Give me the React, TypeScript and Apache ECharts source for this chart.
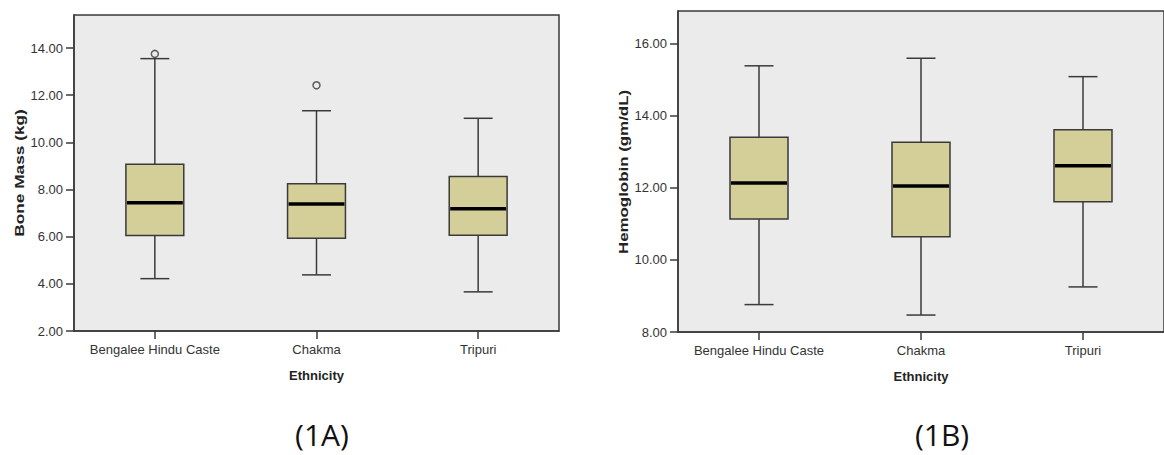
import React, { useEffect, useRef } from "react";
import * as echarts from "echarts";

const categories = ["Bengalee Hindu Caste", "Chakma", "Tripuri"];

// [min, Q1, median, Q3, max]
const boneMass = [
  [4.22, 6.05, 7.44, 9.07, 13.55],
  [4.38, 5.93, 7.39, 8.24, 11.34],
  [3.66, 6.06, 7.18, 8.55, 11.02],
];
const boneMassOutliers = [
  [0, 13.75],
  [1, 12.42],
];
const hemoglobin = [
  [8.76, 11.13, 12.13, 13.4, 15.38],
  [8.47, 10.64, 12.05, 13.26, 15.59],
  [9.25, 11.61, 12.61, 13.61, 15.08],
];

const boneMassTicks = [2, 4, 6, 8, 10, 12, 14];
const hemoglobinTicks = [8, 10, 12, 14, 16];

const panelLabels = ["(1A)", "(1B)"];
const yNames = ["Bone Mass (kg)", "Hemoglobin (gm/dL)"];
const xName = "Ethnicity";

const LINE = "#3a3a3a";
const FONT = '"Liberation Sans", Arial, sans-serif';

const renderBox = (params: any, api: any) => {
  const i = api.value(0);
  const pMin = api.coord([i, api.value(1)]);
  const pQ1 = api.coord([i, api.value(2)]);
  const pMed = api.coord([i, api.value(3)]);
  const pQ3 = api.coord([i, api.value(4)]);
  const pMax = api.coord([i, api.value(5)]);
  const band = api.size([1, 0])[0];
  const bw = band * 0.358;
  const cw = bw / 2;
  const cx = pMed[0];
  const ls = { stroke: LINE, lineWidth: 1.5, fill: null };
  return {
    type: "group",
    children: [
      { type: "line", shape: { x1: cx, y1: pMin[1], x2: cx, y2: pQ1[1] }, style: ls },
      { type: "line", shape: { x1: cx, y1: pQ3[1], x2: cx, y2: pMax[1] }, style: ls },
      { type: "line", shape: { x1: cx - cw / 2, y1: pMin[1], x2: cx + cw / 2, y2: pMin[1] }, style: ls },
      { type: "line", shape: { x1: cx - cw / 2, y1: pMax[1], x2: cx + cw / 2, y2: pMax[1] }, style: ls },
      {
        type: "rect",
        shape: { x: cx - bw / 2, y: pQ3[1], width: bw, height: pQ1[1] - pQ3[1] },
        style: { fill: "#D4CF98", stroke: LINE, lineWidth: 1.5 },
      },
      {
        type: "line",
        shape: { x1: cx - bw / 2 + 1, y1: pMed[1], x2: cx + bw / 2 - 1, y2: pMed[1] },
        style: { stroke: "#000", lineWidth: 3.5 },
      },
    ],
  };
};

const makeX = (gridIndex: number) => ({
  type: "category",
  gridIndex,
  data: categories,
  boundaryGap: true,
  name: xName,
  nameLocation: "middle",
  nameGap: 38,
  nameTextStyle: { fontFamily: FONT, fontWeight: "bold", fontSize: 13, color: "#222" },
  axisLine: { show: true, lineStyle: { color: LINE, width: 1.5 } },
  axisTick: { show: true, alignWithLabel: true, interval: 0, inside: false, length: 8, lineStyle: { color: LINE, width: 1.5 } },
  axisLabel: { fontFamily: FONT, fontSize: 13, color: "#333", margin: 12, interval: 0, hideOverlap: false },
  splitLine: { show: false },
});

const makeY = (gridIndex: number, min: number, max: number, ticks: number[]) => ({
  type: "value",
  gridIndex,
  min,
  max,
  axisLine: { show: true, lineStyle: { color: LINE, width: 1.5 } },
  axisTick: { show: true, length: 8, customValues: ticks, lineStyle: { color: LINE, width: 1.5 } },
  axisLabel: {
    customValues: ticks,
    fontFamily: FONT,
    fontSize: 13,
    color: "#333",
    margin: 11,
    formatter: (v: number) => v.toFixed(2),
  },
  splitLine: { show: false },
});

export default function App() {
  const ref = useRef<HTMLDivElement>(null);
  useEffect(() => {
    if (!ref.current) return;
    const chart = echarts.init(ref.current, null, { renderer: "svg" });
    chart.setOption({
      animation: false,
      backgroundColor: "#fff",
      grid: [
        { left: 74, top: 15, width: 485, height: 316, show: true, backgroundColor: "#EBEBEB", borderColor: LINE, borderWidth: 1.5 },
        { left: 678, top: 11, width: 495, height: 321, show: true, backgroundColor: "#EBEBEB", borderColor: LINE, borderWidth: 1.5 },
      ],
      xAxis: [makeX(0), makeX(1)],
      yAxis: [makeY(0, 2, 15.4, boneMassTicks), makeY(1, 8, 16.9, hemoglobinTicks)],
      series: [
        {
          type: "custom",
          xAxisIndex: 0,
          yAxisIndex: 0,
          renderItem: renderBox,
          encode: { x: 0, y: [1, 2, 3, 4, 5] },
          data: boneMass.map((s, i) => [i, ...s]),
        },
        {
          type: "scatter",
          xAxisIndex: 0,
          yAxisIndex: 0,
          symbol: "circle",
          symbolSize: 7,
          itemStyle: { color: "transparent", borderColor: LINE, borderWidth: 1.5 },
          data: boneMassOutliers,
        },
        {
          type: "custom",
          xAxisIndex: 1,
          yAxisIndex: 1,
          renderItem: renderBox,
          encode: { x: 0, y: [1, 2, 3, 4, 5] },
          data: hemoglobin.map((s, i) => [i, ...s]),
        },
      ],
      graphic: [
        {
          type: "text",
          x: 19,
          y: 173,
          rotation: Math.PI / 2,
          scaleX: 1.33,
          style: { text: yNames[0], fontFamily: FONT, fontWeight: "bold", fontSize: 13, fill: "#222", align: "center", verticalAlign: "middle" },
        },
        {
          type: "text",
          x: 623,
          y: 172,
          rotation: Math.PI / 2,
          scaleX: 1.3,
          style: { text: yNames[1], fontFamily: FONT, fontWeight: "bold", fontSize: 13, fill: "#222", align: "center", verticalAlign: "middle" },
        },
        {
          type: "text",
          x: 322,
          y: 434,
          style: { text: panelLabels[0], fontFamily: '"Open Sans", sans-serif', fontSize: 30, fill: "#111", align: "center", verticalAlign: "middle" },
        },
        {
          type: "text",
          x: 942,
          y: 434,
          style: { text: panelLabels[1], fontFamily: '"Open Sans", sans-serif', fontSize: 30, fill: "#111", align: "center", verticalAlign: "middle" },
        },
      ],
    });
    return () => chart.dispose();
  }, []);
  return <div ref={ref} style={{ position: "fixed", left: 0, top: 0, width: 1164, height: 455 }} />;
}
